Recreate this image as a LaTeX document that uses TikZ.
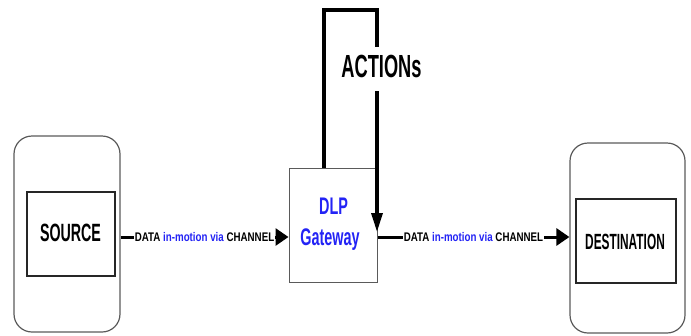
\documentclass[tikz,border=0pt]{standalone}
\usepackage{fontspec}
\setmainfont{Liberation Sans}
\newfontfamily\bigfnt[FakeStretch=0.57]{Liberation Sans}
\newfontfamily\dstfnt[FakeStretch=0.54]{Liberation Sans}
\newfontfamily\gwfnt[FakeStretch=0.6]{Liberation Sans}
\newfontfamily\lblfnt[FakeStretch=0.78]{Liberation Sans}
\usetikzlibrary{arrows.meta,calc}
\definecolor{txtblue}{RGB}{35,35,245}
\definecolor{edgegray}{RGB}{90,90,90}
\begin{document}
\begin{tikzpicture}[x=1pt,y=-1pt,
  outerbox/.style={draw=edgegray,line width=1.2pt,rounded corners=18pt},
  innerbox/.style={draw=black!85,line width=1.6pt},
  gwbox/.style={draw=edgegray,line width=1pt},
  conn/.style={line width=3pt,-{Triangle[width=17pt,length=13pt]}},
  loopline/.style={line width=3.2pt},
  lbl/.style={fill=white,inner xsep=1pt,inner ysep=2pt,font=\lblfnt\bfseries\fontsize{12.5}{14}\selectfont}
]
\useasboundingbox (0,0) rectangle (691,335);
% boxes
\node[outerbox,minimum width=106pt,minimum height=196pt] (srcOuter) at (67,234) {};
\node[innerbox,minimum width=88pt,minimum height=84pt] (srcInner) at (71,234) {};
\node[font=\bigfnt\bfseries\fontsize{25}{30}\selectfont,inner sep=0pt,anchor=base] (srcTxt) at (70.5,241) {SOURCE};
\node[outerbox,minimum width=115pt,minimum height=190pt] (dstOuter) at (627.5,238) {};
\node[innerbox,minimum width=100pt,minimum height=84pt] (dstInner) at (626,241) {};
\node[font=\dstfnt\bfseries\fontsize{22}{26}\selectfont,inner sep=0pt,anchor=base] (dstTxt) at (625,249) {DESTINATION};
\node[gwbox,minimum width=88pt,minimum height=114pt] (gw) at (333,225) {};
\node[font=\gwfnt\bfseries\fontsize{24}{31}\selectfont,text=txtblue,inner sep=0pt,anchor=base] (gwTxt1) at (333.5,214) {DLP};
\node[font=\gwfnt\bfseries\fontsize{24}{31}\selectfont,text=txtblue,inner sep=0pt,anchor=base] (gwTxt2) at (330,245) {Gateway};
% data line
\coordinate (ly) at (0,237);
\draw[conn] (srcOuter.east |- ly) -- node[lbl] (lbl1) {DATA \textcolor{txtblue}{in-motion via} CHANNEL} (gw.west |- ly);
\draw[conn] (gw.east |- ly) -- node[lbl] (lbl2) {DATA \textcolor{txtblue}{in-motion via} CHANNEL} (dstOuter.west |- ly);
% action loop
\coordinate (tl) at (324,10);
\coordinate (tr) at (377,10);
\coordinate (tip) at (377,232);
\draw[loopline,line join=miter,-{Triangle[width=11pt,length=19pt]}] (gw.north -| tl) -- (tl) -- (tr) -- (tip);
\node[fill=white,font=\bigfnt\bfseries\fontsize{32}{36}\selectfont,text height=23pt,text depth=7pt,inner xsep=1pt,inner ysep=7pt,anchor=base] (act) at (381.5,77) {ACTIONs};
\end{tikzpicture}
\end{document}
